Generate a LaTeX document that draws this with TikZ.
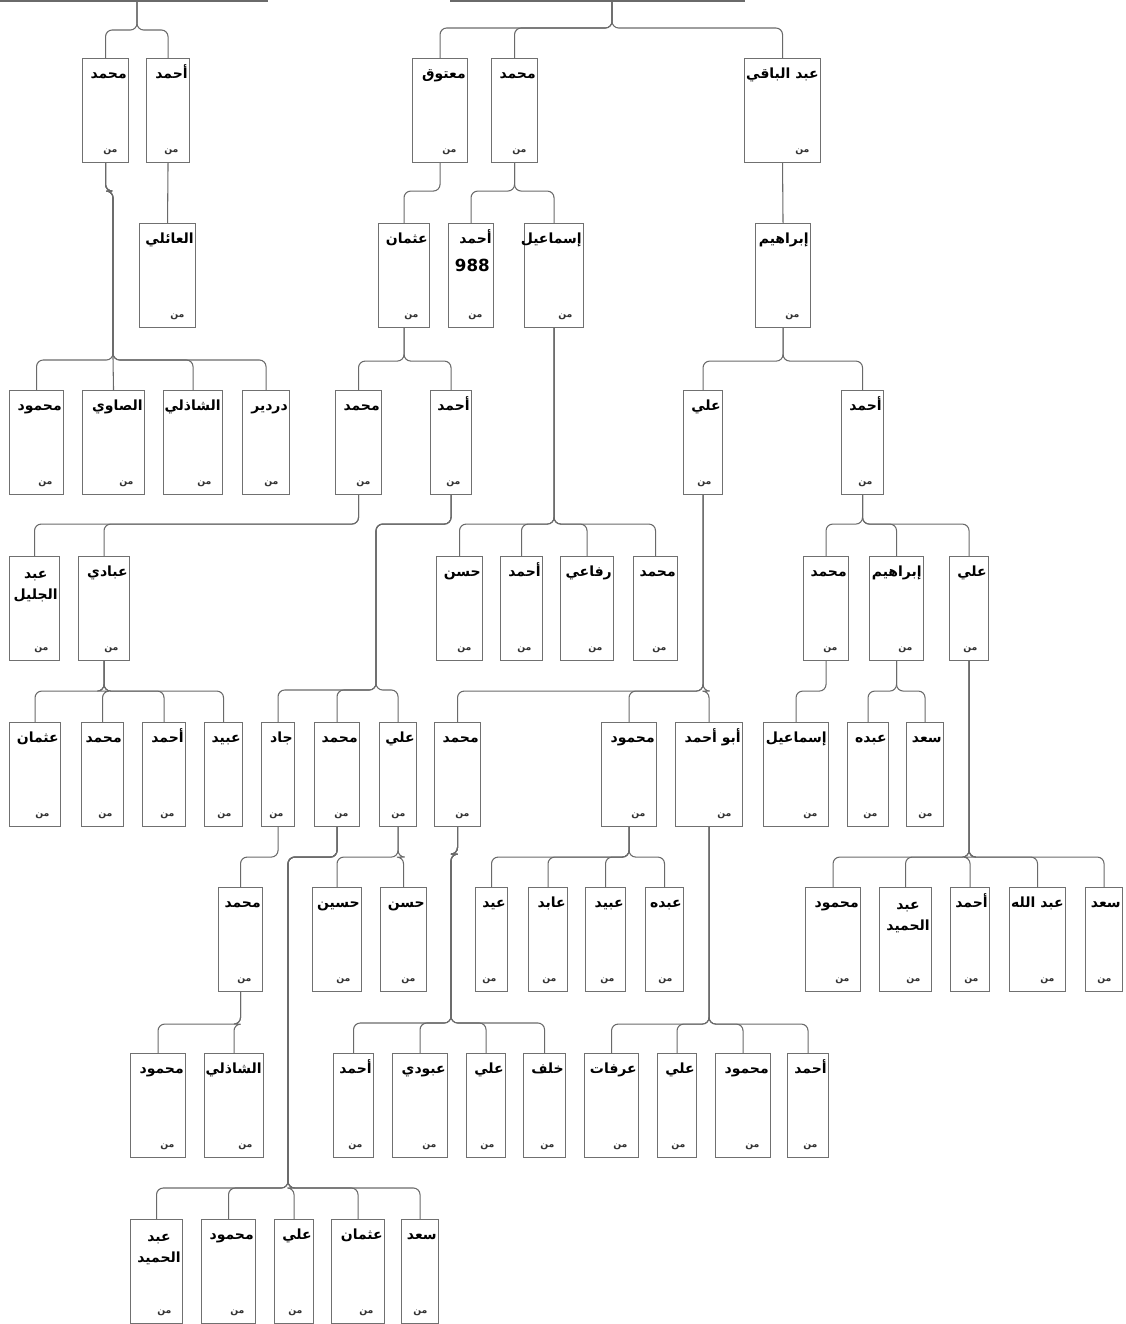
\documentclass[tikz,border=0pt]{standalone}
\usepackage{fontspec}
\newfontfamily\arfont[Script=Arabic]{DejaVu Sans}
\TeXXeTstate=1
\definecolor{linegray}{HTML}{6A6A6A}
\definecolor{boxgray}{HTML}{707070}
\newcommand\R[1]{\beginR #1\endR}
\tikzset{
  pbox/.style={draw=boxgray, line width=0.8pt, minimum height=78pt, inner sep=0pt, fill=white},
  nm/.style={font=\arfont\bfseries\fontsize{10.5}{12}\selectfont, inner sep=0pt},
  mn/.style={font=\arfont\bfseries\fontsize{7}{8}\selectfont, inner sep=0pt, text=black!80},
  conn/.style={draw=linegray, line width=0.8pt, rounded corners=5pt}
}
% one-line name
\newcommand\pers[5]{%
  \node[pbox, minimum width={(#3-#2)*0.75pt}, anchor=north west] (#1) at (#2,#4) {};
  \node[nm, anchor=base east] (#1n) at (#3-1,#4+20) {#5};
  \node[mn] (#1m) at ([xshift=-14pt,yshift=8.5pt]#1.south east) {\R{من}};
}
% two-line name
\newcommand\persii[6]{%
  \node[pbox, minimum width={(#3-#2)*0.75pt}, anchor=north west] (#1) at (#2,#4) {};
  \node[nm, anchor=base east] (#1q) at (#3-1,#4+43) {#6};
  \node[nm, anchor=base] (#1n) at ([yshift=15.5pt]#1q.base) {#5};
  \node[mn] (#1m) at ([xshift=-14pt,yshift=8.5pt]#1.south east) {\R{من}};
}
\begin{document}
\begin{tikzpicture}[x=0.75pt,y=-0.75pt]
\useasboundingbox (0,0) rectangle (1126,1324);
% cut-off parent edges at the top
\coordinate (cutLa) at (0,1); \coordinate (cutLb) at (268,1);
\coordinate (cutMa) at (450,1); \coordinate (cutMb) at (745,1);
\draw[linegray, line width=0.8pt] (cutLa) -- (cutLb);
\draw[linegray, line width=0.8pt] (cutMa) -- (cutMb);
\coordinate (topL) at (137,1);
\coordinate (topM) at (612,1);
% row 1
\pers{a1}{82}{128}{58}{\R{محمد}}
\pers{a2}{146}{189}{58}{\R{أحمد}}
\pers{b1}{412}{467}{58}{\R{معتوق}}
\pers{b2}{491}{537}{58}{\R{محمد}}
\pers{b3}{744}{820}{58}{\R{عبد الباقي}}
% row 2
\pers{a3}{139}{195}{223}{\R{العائلي}}
\pers{b4}{378}{429}{223}{\R{عثمان}}
\node[pbox, minimum width={(493-448)*0.75pt}, anchor=north west] (b5) at (448,223) {};
\node[nm, anchor=base east] (b5n) at (492,243) {\R{أحمد}};
\node[nm, font=\arfont\bfseries\fontsize{12.5}{14}\selectfont, anchor=base east] (b5q) at (490,271) {988};
\node[mn] (b5m) at ([xshift=-14pt,yshift=8.5pt]b5.south east) {\R{من}};
\pers{b6}{524}{583}{223}{\R{إسماعيل}}
\pers{b7}{755}{810}{223}{\R{إبراهيم}}
% row 3
\pers{c1}{9}{63}{390}{\R{محمود}}
\pers{c2}{82}{144}{390}{\R{الصاوي}}
\pers{c3}{163}{222}{390}{\R{الشاذلي}}
\pers{c4}{242}{289}{390}{\R{دردير}}
\pers{c5}{335}{381}{390}{\R{محمد}}
\pers{c6}{430}{471}{390}{\R{أحمد}}
\pers{c7}{683}{722}{390}{\R{علي}}
\pers{c8}{841}{883}{390}{\R{أحمد}}
% row 4
\persii{d1}{9}{59}{556}{\R{عبد}}{\R{الجليل}}
\pers{d2}{78}{129}{556}{\R{عبادي}}
\pers{d3}{436}{482}{556}{\R{حسن}}
\pers{d4}{500}{542}{556}{\R{أحمد}}
\pers{d5}{560}{613}{556}{\R{رفاعي}}
\pers{d6}{633}{677}{556}{\R{محمد}}
\pers{d7}{803}{848}{556}{\R{محمد}}
\pers{d8}{869}{923}{556}{\R{إبراهيم}}
\pers{d9}{949}{988}{556}{\R{علي}}
% row 5
\pers{e1}{9}{60}{722}{\R{عثمان}}
\pers{e2}{81}{123}{722}{\R{محمد}}
\pers{e3}{142}{185}{722}{\R{أحمد}}
\pers{e4}{204}{242}{722}{\R{عبيد}}
\pers{e5}{261}{294}{722}{\R{جاد}}
\pers{e6}{314}{359}{722}{\R{محمد}}
\pers{e7}{379}{416}{722}{\R{علي}}
\pers{e8}{434}{480}{722}{\R{محمد}}
\pers{e9}{601}{656}{722}{\R{محمود}}
\pers{e10}{675}{742}{722}{\R{أبو أحمد}}
\pers{e11}{763}{828}{722}{\R{إسماعيل}}
\pers{e12}{847}{888}{722}{\R{عبده}}
\pers{e13}{906}{943}{722}{\R{سعد}}
% row 6
\pers{f1}{218}{262}{887}{\R{محمد}}
\pers{f2}{312}{361}{887}{\R{حسين}}
\pers{f3}{380}{426}{887}{\R{حسن}}
\pers{f4}{475}{507}{887}{\R{عيد}}
\pers{f5}{528}{567}{887}{\R{عابد}}
\pers{f6}{585}{625}{887}{\R{عبيد}}
\pers{f7}{645}{683}{887}{\R{عبده}}
\pers{f8}{805}{860}{887}{\R{محمود}}
\persii{f9}{879}{931}{887}{\R{عبد}}{\R{الحميد}}
\pers{f10}{950}{989}{887}{\R{أحمد}}
\pers{f11}{1009}{1065}{887}{\R{عبد الله}}
\pers{f12}{1085}{1122}{887}{\R{سعد}}
% row 7
\pers{g1}{130}{185}{1053}{\R{محمود}}
\pers{g2}{204}{263}{1053}{\R{الشاذلي}}
\pers{g3}{333}{373}{1053}{\R{أحمد}}
\pers{g4}{392}{447}{1053}{\R{عبودي}}
\pers{g5}{466}{505}{1053}{\R{علي}}
\pers{g6}{523}{565}{1053}{\R{خلف}}
\pers{g7}{584}{638}{1053}{\R{عرفات}}
\pers{g8}{657}{696}{1053}{\R{علي}}
\pers{g9}{715}{770}{1053}{\R{محمود}}
\pers{g10}{787}{828}{1053}{\R{أحمد}}
% row 8
\persii{h1}{130}{182}{1219}{\R{عبد}}{\R{الحميد}}
\pers{h2}{201}{255}{1219}{\R{محمود}}
\pers{h3}{274}{313}{1219}{\R{علي}}
\pers{h4}{331}{384}{1219}{\R{عثمان}}
\pers{h5}{401}{438}{1219}{\R{سعد}}
% trunk bends
\coordinate (TA1) at (113,360);
\coordinate (TC6) at (376,690);
\coordinate (TE6) at (288,1188);
\coordinate (TE8) at (451,1023);
% connectors
\foreach \c in {a1,a2} \draw[conn] (topL) -- ++(0,29) -| (\c.north);
\foreach \c in {b1,b2,b3} \draw[conn] (topM) -- ++(0,27) -| (\c.north);
\draw[conn] (a2.south) -- (a3.north);
\draw[conn] (b3.south) -- (b7.north);
\draw[conn] (b1.south) -- ++(0,28) -| (b4.north);
\foreach \c in {b5,b6} \draw[conn] (b2.south) -- ++(0,28) -| (\c.north);
\draw[conn] (a1.south) -- ++(0,28) -| (TA1) -- (c2.north);
\foreach \c in {c1,c3,c4} \draw[conn] (a1.south) -- ++(0,28) -| (TA1) -| (\c.north);
\foreach \c in {c5,c6} \draw[conn] (b4.south) -- ++(0,33) -| (\c.north);
\foreach \c in {c7,c8} \draw[conn] (b7.south) -- ++(0,33) -| (\c.north);
\foreach \c in {d1,d2} \draw[conn] (c5.south) -- ++(0,29) -| (\c.north);
\foreach \c in {d3,d4,d5,d6} \draw[conn] (b6.south) -- ++(0,196) -| (\c.north);
\foreach \c in {d7,d8,d9} \draw[conn] (c8.south) -- ++(0,29) -| (\c.north);
\foreach \c in {e1,e2,e3,e4} \draw[conn] (d2.south) -- ++(0,30) -| (\c.north);
\foreach \c in {e5,e6,e7} \draw[conn] (c6.south) -- ++(0,29) -| (TC6) -| (\c.north);
\foreach \c in {e8,e9,e10} \draw[conn] (c7.south) -- ++(0,196) -| (\c.north);
\draw[conn] (d7.south) -- ++(0,30) -| (e11.north);
\foreach \c in {e12,e13} \draw[conn] (d8.south) -- ++(0,30) -| (\c.north);
\draw[conn] (e5.south) -- ++(0,30) -| (f1.north);
\foreach \c in {f2,f3} \draw[conn] (e7.south) -- ++(0,30) -| (\c.north);
\foreach \c in {f4,f5,f6,f7} \draw[conn] (e9.south) -- ++(0,30) -| (\c.north);
\foreach \c in {f8,f9,f10,f11,f12} \draw[conn] (d9.south) -- ++(0,196) -| (\c.north);
\foreach \c in {g1,g2} \draw[conn] (f1.south) -- ++(0,32) -| (\c.north);
\foreach \c in {g3,g4,g5,g6} \draw[conn] (e8.south) -- ++(0,27) -| (TE8) -| (\c.north);
\foreach \c in {g7,g8,g9,g10} \draw[conn] (e10.south) -- ++(0,197) -| (\c.north);
\foreach \c in {h1,h2,h3,h4,h5} \draw[conn] (e6.south) -- ++(0,30) -| (TE6) -| (\c.north);
\end{tikzpicture}
\end{document}
